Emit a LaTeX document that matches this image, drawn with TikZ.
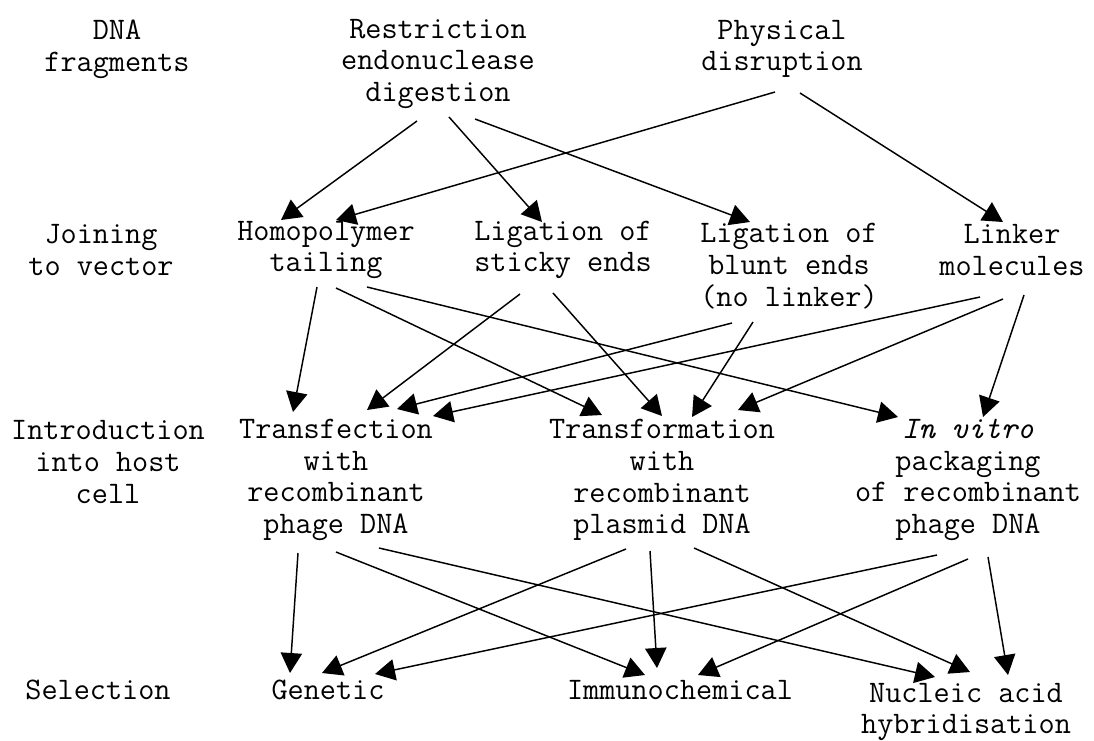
\documentclass[tikz,border=0pt]{standalone}
\usetikzlibrary{arrows.meta,calc}
\tikzset{
  lbl/.style={align=center,inner sep=0pt,font=\ttfamily\fontsize{23.5}{23.8}\selectfont},
  arr/.style={line width=1.1pt,-{Triangle[length=15pt,width=16pt]}}
}
\begin{document}
\begin{tikzpicture}[x=0.75pt,y=-0.75pt]
\useasboundingbox[fill=white] (0,0) rectangle (1094,740);
% row labels
\node[lbl] (dnafrag) at (117,49) {DNA\\fragments};
\node[lbl] (joining) at (101,250) {Joining\\to vector};
\node[lbl] (intro) at (108,462) {Introduction\\into host\\cell};
\node[lbl] (selection) at (98,690) {Selection};
% row 1
\node[lbl] (restr) at (438,64) {Restriction\\endonuclease\\digestion};
\node[lbl] (phys) at (782,49) {Physical\\disruption};
% row 2
\node[lbl] (homo) at (326,250) {Homopolymer\\tailing};
\node[lbl] (sticky) at (563,250) {Ligation of\\sticky ends};
\node[lbl] (blunt) at (789,266) {Ligation of\\blunt ends\\(no linker)};
\node[lbl] (linker) at (1012,250) {Linker\\molecules};
% row 3
\node[lbl] (transf) at (336,480) {Transfection\\with\\recombinant\\phage DNA};
\node[lbl] (transfm) at (662,480) {Transformation\\with\\recombinant\\plasmid DNA};
\node[lbl] (invitro) at (968,480) {\textit{In vitro}\\packaging\\of recombinant\\phage DNA};
% row 4
\node[lbl] (genetic) at (328,690) {Genetic};
\node[lbl] (immuno) at (680,690) {Immunochemical};
\node[lbl] (nucleic) at (966,712) {Nucleic acid\\hybridisation};
% row 1 -> row 2
\draw[arr] ($(restr)+(-21,57)$) -- ($(homo)+(-45,-30)$);
\draw[arr] ($(restr)+(11,53)$) -- ($(sticky)+(-21,-28)$);
\draw[arr] ($(restr)+(37,55)$) -- ($(blunt)+(-39,-44)$);
\draw[arr] ($(phys)+(-7,43)$) -- ($(homo)+(10,-30)$);
\draw[arr] ($(phys)+(18,44)$) -- ($(linker)+(-9,-28)$);
% row 2 -> row 3
\draw[arr] ($(homo)+(-9,37)$) -- ($(transf)+(-43,-68)$);
\draw[arr] ($(homo)+(10,38)$) -- ($(transfm)+(-60,-65)$);
\draw[arr] ($(homo)+(41,37)$) -- ($(invitro)+(-70,-63)$);
\draw[arr] ($(sticky)+(-43,44)$) -- ($(transf)+(31,-70)$);
\draw[arr] ($(sticky)+(-10,43)$) -- ($(transfm)+(0,-64)$);
\draw[arr] ($(blunt)+(-57,57)$) -- ($(transf)+(61,-71)$);
\draw[arr] ($(blunt)+(-36,56)$) -- ($(transfm)+(30,-63)$);
\draw[arr] ($(linker)+(-32,47)$) -- ($(transf)+(97,-64)$);
\draw[arr] ($(linker)+(-9,49)$) -- ($(transfm)+(76,-70)$);
\draw[arr] ($(linker)+(12,45)$) -- ($(invitro)+(15,-63)$);
% row 3 -> row 4
\draw[arr] ($(transf)+(-38,73)$) -- ($(genetic)+(-38,-17)$);
\draw[arr] ($(transf)+(0,72)$) -- ($(immuno)+(-35,-15)$);
\draw[arr] ($(transf)+(43,68)$) -- ($(nucleic)+(-31,-35)$);
\draw[arr] ($(transfm)+(-36,69)$) -- ($(genetic)+(-6,-17)$);
\draw[arr] ($(transfm)+(-12,71)$) -- ($(immuno)+(-23,-22)$);
\draw[arr] ($(transfm)+(32,68)$) -- ($(nucleic)+(4,-40)$);
\draw[arr] ($(invitro)+(-31,75)$) -- ($(genetic)+(47,-16)$);
\draw[arr] ($(invitro)+(0,79)$) -- ($(immuno)+(18,-15)$);
\draw[arr] ($(invitro)+(20,77)$) -- ($(nucleic)+(42,-37)$);
\end{tikzpicture}
\end{document}
